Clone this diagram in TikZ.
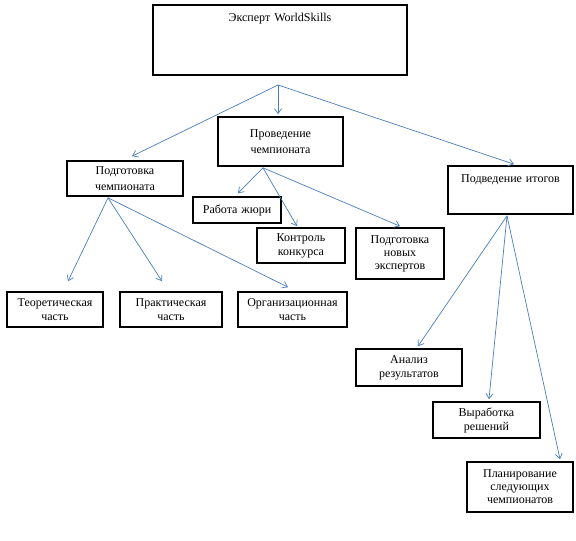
\documentclass[tikz,border=0pt]{standalone}
\usepackage{fontspec}
\setmainfont{Liberation Serif}
\usetikzlibrary{arrows.meta}
\definecolor{strelka}{HTML}{4A7EBB}
\tikzset{
  blok/.style={draw=black,line width=1.6pt,inner sep=0pt,align=center,
    font=\fontsize{12}{14}\selectfont},
  svyaz/.style={draw=strelka,line width=0.7pt,-{Straight Barb[length=5pt,width=7pt]}}
}
\begin{document}
\begin{tikzpicture}[x=1pt,y=-1pt]
  %ramka risunka
  	\useasboundingbox (0,0) rectangle (576,541);

  %verhnij blok
	\node[blok,minimum width=254,text width=250,text height=16,text depth=54] (ekspert) at (280,40) {Эксперт WorldSkills};
	\coordinate (razvilka) at (278,85);

  %vtoroj uroven
	\node[blok,minimum width=116,minimum height=35,text width=112,font=\fontsize{12}{16}\selectfont] (podgotovka) at (125,178.5) {Подготовка\\чемпионата};
	\node[blok,minimum width=125,minimum height=49,text width=121,font=\fontsize{12}{16}\selectfont] (provedenie) at (280.5,141.5) {Проведение\\чемпионата};
	\node[blok,minimum width=125,text width=121,text height=16,text depth=32] (itogi) at (510.5,190) {Подведение итогов};

  %provedenie chempionata
	\node[blok,minimum width=88,minimum height=26,text width=84] (zhyuri) at (237,210) {Работа жюри};
	\node[blok,minimum width=88,minimum height=35,text width=84] (kontrol) at (301,245.5) {Контроль\\конкурса};
	\node[blok,minimum width=88,minimum height=51,text width=84,font=\fontsize{12}{13}\selectfont] (novye) at (400,253.5) {Подготовка\\новых\\экспертов};

  %podgotovka chempionata
	\node[blok,minimum width=96,minimum height=35,text width=92] (teoriya) at (55,309.5) {Теоретическая\\часть};
	\node[blok,minimum width=102,minimum height=35,text width=98] (praktika) at (171,309.5) {Практическая\\часть};
	\node[blok,minimum width=109,minimum height=35,text width=105] (organizaciya) at (292.5,309.5) {Организационная\\часть};

  %podvedenie itogov
	\node[blok,minimum width=106,minimum height=37,text width=102] (analiz) at (409,367.5) {Анализ\\результатов};
	\node[blok,minimum width=107,minimum height=36,text width=103] (resheniya) at (486.5,420) {Выработка\\решений};
	\node[blok,minimum width=106,minimum height=50,text width=102,font=\fontsize{12}{13}\selectfont] (planirovanie) at (520,487) {Планирование\\следующих\\чемпионатов};

  %strelki ot verhnego bloka
	\draw[svyaz] (razvilka) -- ([xshift=7,yshift=4]podgotovka.north);
	\draw[svyaz] (razvilka) -- ([yshift=2]razvilka |- provedenie.north);
	\draw[svyaz] (razvilka) -- ([xshift=3.5,yshift=1]itogi.north);

  %strelki ot provedeniya
	\coordinate (prov-vyhod) at ([xshift=-17.5,yshift=-1]provedenie.south);
	\draw[svyaz] (prov-vyhod) -- ([xshift=1,yshift=3]zhyuri.north);
	\draw[svyaz] (prov-vyhod) -- ([xshift=-4,yshift=1]kontrol.north);
	\draw[svyaz] (prov-vyhod) -- ([yshift=1]novye.north);

  %strelki ot podgotovki
	\coordinate (podg-vyhod) at ([xshift=-17,yshift=-1]podgotovka.south);
	\draw[svyaz] (podg-vyhod) -- ([xshift=13,yshift=10]teoriya.north);
	\draw[svyaz] (podg-vyhod) -- ([xshift=-9,yshift=10]praktika.north);
	\draw[svyaz] (podg-vyhod) -- ([xshift=-4.5,yshift=4]organizaciya.north);

  %strelki ot itogov
	\coordinate (itog-vyhod) at ([xshift=-3.5,yshift=-1]itogi.south);
	\draw[svyaz] (itog-vyhod) -- ([xshift=9,yshift=2]analiz.north);
	\draw[svyaz] (itog-vyhod) -- ([xshift=2.5,yshift=2]resheniya.north);
	\draw[svyaz] (itog-vyhod) -- ([xshift=40,yshift=2]planirovanie.north);
\end{tikzpicture}
\end{document}
